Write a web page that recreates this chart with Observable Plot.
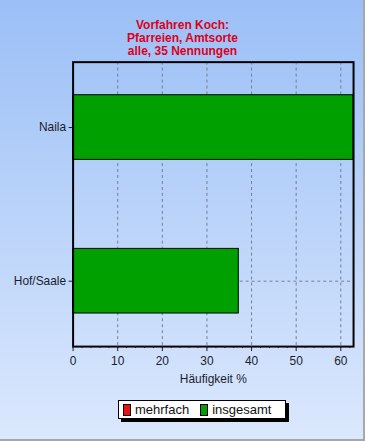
<!DOCTYPE html>
<html>
<head>
<meta charset="utf-8">
<script src="https://cdn.jsdelivr.net/npm/d3@7"></script>
<script src="https://cdn.jsdelivr.net/npm/@observablehq/plot@0.6"></script>
<style>
  html, body { margin: 0; padding: 0; }
  #wrap {
    position: relative; width: 363px; height: 439px;
    background: linear-gradient(to bottom, #9bbff6 0%, #dbe8fd 100%);
    border-right: 2px solid #a8a8a8; border-bottom: 2px solid #a8a8a8;
    font-family: "Liberation Sans", Arial, sans-serif; overflow: hidden;
  }
  #title {
    position: absolute; left: 0; width: 365px; top: 19px; text-align: center;
    color: #dd0022; font-weight: bold; font-size: 12px; line-height: 13px;
  }
  #legend {
    position: absolute; left: 118px; top: 400px; width: 166px; height: 17px;
    background: #fff; border: 1px solid #000; box-shadow: 3px 3px 0 #000;
    font-size: 13px; color: #111; display: flex; align-items: center;
  }
  .sw { display: inline-block; width: 6px; height: 10px; border: 1px solid #000; margin: 0 4px 0 4px; }
  #chart { position: absolute; left: 0; top: 0; }
</style>
</head>
<body>
<div id="wrap">
  <div id="chart"></div>
  <div id="title">Vorfahren Koch:<br>Pfarreien, Amtsorte<br>alle, 35 Nennungen</div>
  <div id="legend"></div>
</div>
<script>
const categories = ["Naila", "Hof/Saale"];
const counts = [22, 13];
const total = 35;
const values = [62.86, 37.14];
const xTicks = [0, 10, 20, 30, 40, 50, 60];
const xMinorTicks = [0, 2, 4, 6, 8, 10, 12, 14, 16, 18, 20, 22, 24, 26, 28, 30, 32, 34, 36, 38, 40, 42, 44, 46, 48, 50, 52, 54, 56, 58, 60, 62];
const gridX = [10, 20, 30, 40, 50, 60];
const xLabel = "Häufigkeit %";
const legendItems = [{name: "mehrfach", color: "#ee1111"}, {name: "insgesamt", color: "#00a000"}];

const data = categories.map((c, i) => ({cat: c, value: values[i]}));

const plot = Plot.plot({
  width: 365, height: 441,
  marginLeft: 73, marginRight: 10, marginTop: 62, marginBottom: 93,
  style: {background: "transparent", fontFamily: "Liberation Sans, Arial, sans-serif", fontSize: "12px", color: "#1a1e2e"},
  x: {domain: [0, values[0]]},
  y: {domain: categories, paddingInner: 0.5793, paddingOuter: 0.2152, round: false},
  marks: [
    Plot.ruleX(gridX, {stroke: "#6f7f98", strokeDasharray: "3,3", strokeWidth: 1}),
    Plot.gridY({stroke: "#6f7f98", strokeOpacity: 1, strokeDasharray: "3,3"}),
    Plot.barX(data, {x: "value", y: "cat", fill: "#00a000", stroke: "#000", strokeWidth: 1}),
    Plot.frame({stroke: "#000", strokeWidth: 2}),
    Plot.axisX({ticks: xMinorTicks, tickSize: 2, text: null, label: null}),
    Plot.axisX({ticks: xTicks, tickSize: 5, tickPadding: 5, fontSize: 12, label: xLabel, labelAnchor: "center", labelArrow: "none", labelOffset: 37}),
    Plot.axisY({tickSize: 4, tickPadding: 3, fontSize: 12, label: null})
  ]
});
document.getElementById("chart").appendChild(plot);

const leg = document.getElementById("legend");
legendItems.forEach((it, i) => {
  const sw = document.createElement("span");
  sw.className = "sw"; sw.style.background = it.color;
  if (i > 0) sw.style.marginLeft = "11px";
  leg.appendChild(sw);
  const t = document.createElement("span");
  t.textContent = it.name;
  leg.appendChild(t);
});
</script>
</body>
</html>
